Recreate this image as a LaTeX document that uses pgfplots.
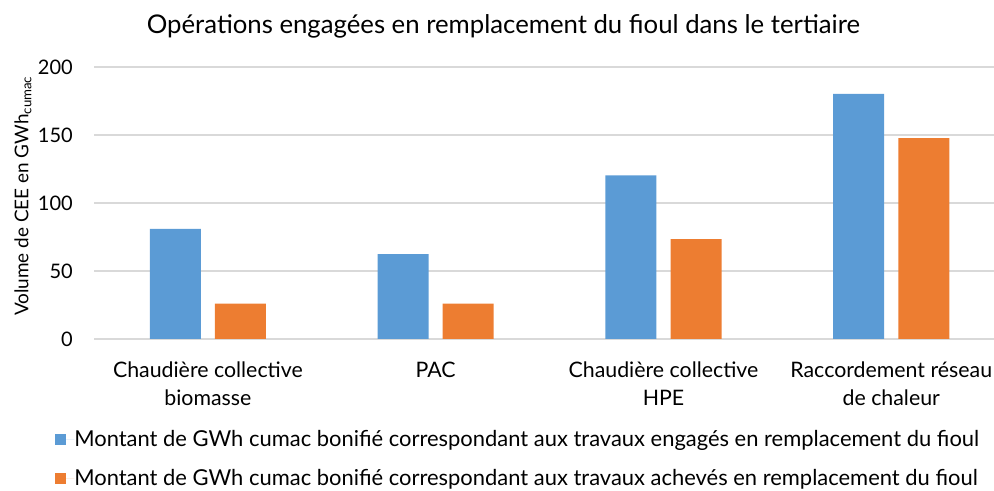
\documentclass[border=0pt]{standalone}
\usepackage{fontspec}
\setmainfont{Lato}
\usepackage{pgfplots}
\pgfplotsset{compat=1.18}
\definecolor{cblue}{HTML}{5B9BD5}
\definecolor{corange}{HTML}{ED7D31}
\definecolor{cgrid}{HTML}{D9D9D9}
\begin{document}
\begin{tikzpicture}
\useasboundingbox (-70.5pt,-114pt) rectangle (675pt,254.25pt);
\begin{axis}[
  at={(0pt,0pt)}, anchor=south west,
  scale only axis, width=675pt, height=204pt,
  xmin=-0.5, xmax=3.451, ymin=0, ymax=200,
  ytick={0,50,100,150,200},
  xtick={0,1,2,3},
  xticklabels={{Chaudière collective\\biomasse},{PAC},{Chaudière collective\\HPE},{Raccordement réseau\\de chaleur}},
  axis line style={draw=none},
  major tick length=0pt,
  ymajorgrids, grid style={cgrid, line width=1.1pt},
  /pgf/number format/assume math mode=true,
  yticklabel style={anchor=east, inner sep=0pt, xshift=-15.75pt, font=\fontsize{15}{18}\selectfont},
  xticklabel style={anchor=north, inner sep=0pt, yshift=-17pt, align=center, font=\fontsize{16}{20.6}\selectfont},
  ybar, bar width=38.25pt,
  legend cell align=left,
  legend style={at={(axis description cs:-0.0433,-0.334)}, anchor=north west, draw=none, fill=none, inner sep=0pt,
    row sep=15.5pt, column sep=0pt, font=\fontsize{16.45}{19}\selectfont,
    nodes={inner sep=0pt}},
  legend image code/.code={\fill[#1] (0pt,-4.125pt) rectangle (8.25pt,4.125pt); \path (0pt,0pt) -- (14.25pt,0pt);},
  clip=false,
]
\addplot[fill=cblue, draw=none, bar shift=-24.4pt] coordinates {(0,81) (1,62.4) (2,120.4) (3,180.3)};
\addlegendentry{Montant de GWh cumac bonifié correspondant aux travaux engagés en remplacement du fioul}
\addplot[fill=corange, draw=none, bar shift=24.4pt] coordinates {(0,26) (1,26) (2,73.5) (3,147.7)};
\addlegendentry{Montant de GWh cumac bonifié correspondant aux travaux achevés en remplacement du fioul}
\end{axis}
\node[anchor=base, inner sep=0pt, font=\fontsize{19.3}{22}\selectfont] at (307.1pt,229.3pt) {Opérations engagées en remplacement du fioul dans le tertiaire};
\node[rotate=90, inner sep=0pt, font=\fontsize{14.2}{17}\selectfont] at (-53.25pt,107.25pt) {Volume de CEE en GWh\textsubscript{cumac}};
\end{tikzpicture}
\end{document}
